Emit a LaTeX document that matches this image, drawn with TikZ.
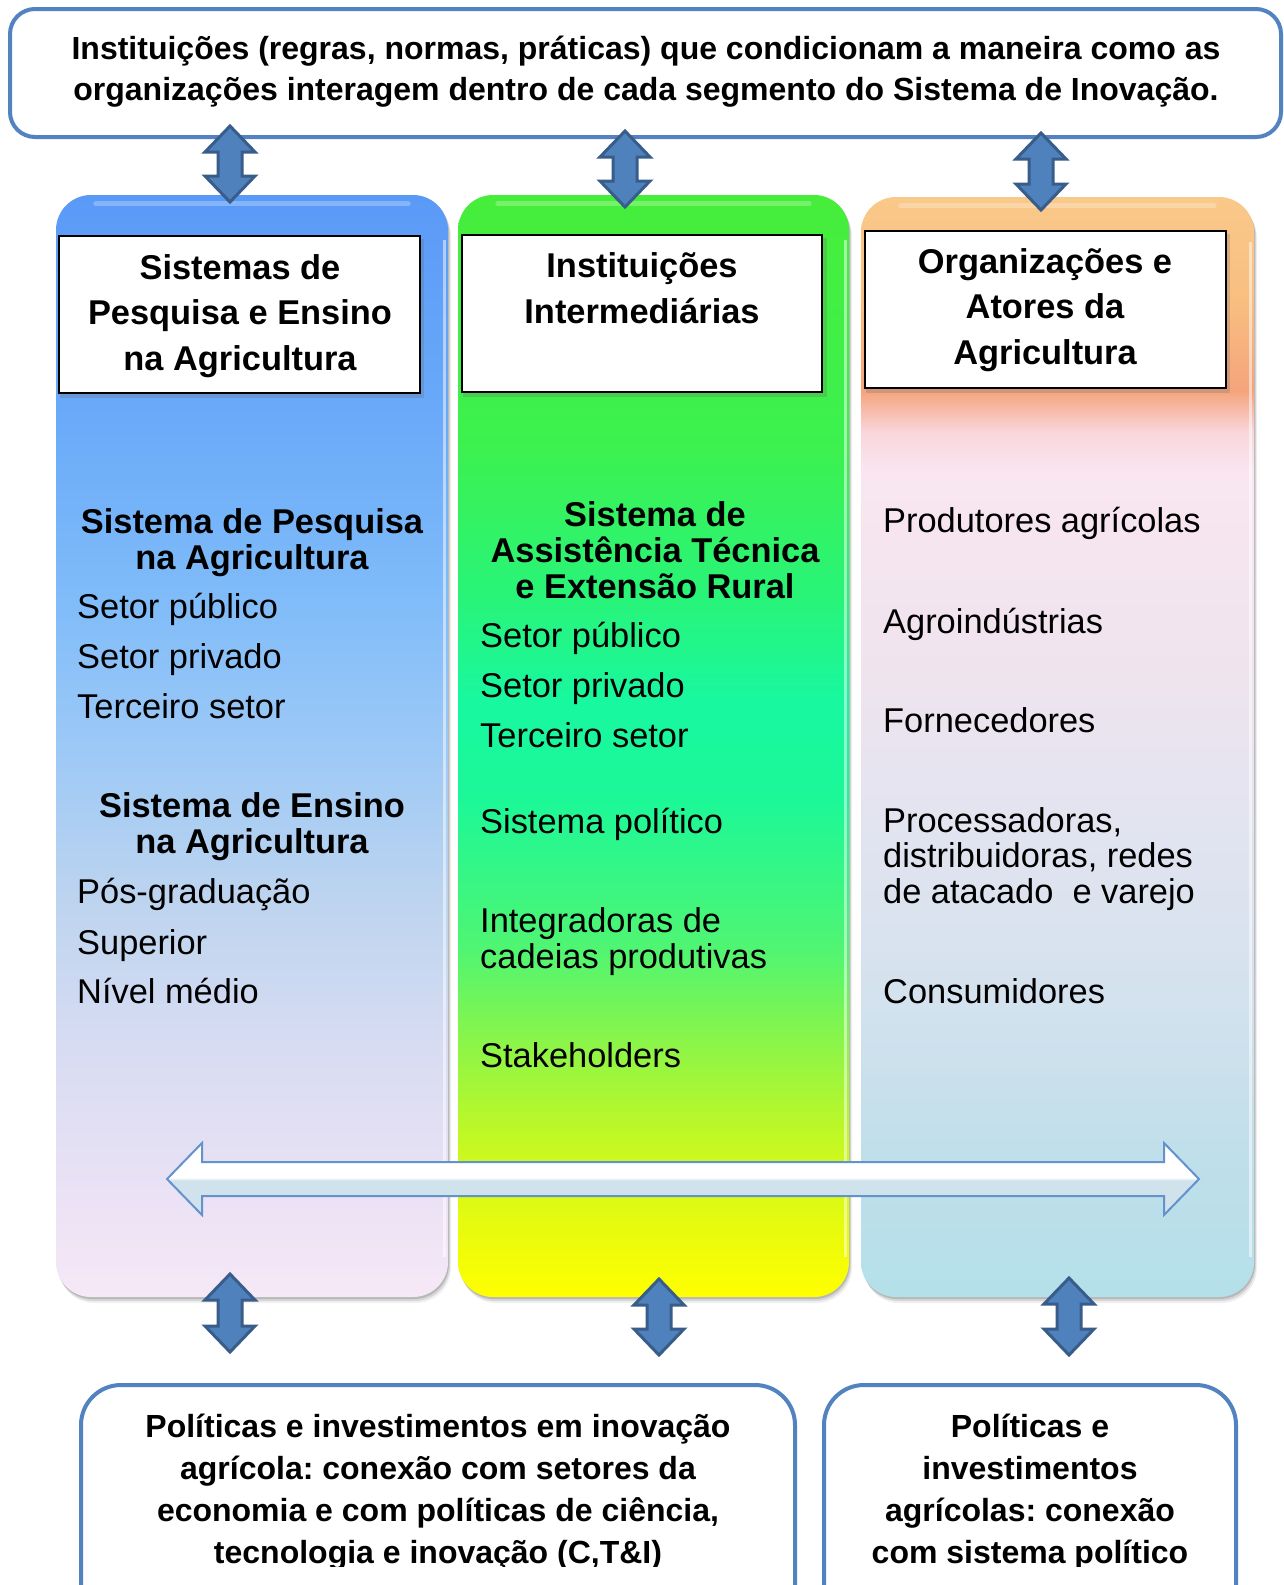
\documentclass[tikz,border=0pt]{standalone}
\usepackage{fontspec}
\setmainfont{Liberation Sans}
\usetikzlibrary{calc}
\frenchspacing

% frame and arrow colours
\definecolor{frameblue}{HTML}{5283C0}
\definecolor{arrowfill}{HTML}{4F81BD}
\definecolor{arrowedge}{HTML}{385D8A}
\definecolor{hedge}{HTML}{6392CC}
\definecolor{hlight}{HTML}{D0E3EC}

% column 1: blue to pale pink
\definecolor{ca1}{HTML}{F6E8F6}
\definecolor{ca2}{HTML}{EBE2F5}
\definecolor{ca3}{HTML}{D8DCF2}
\definecolor{ca4}{HTML}{BDD4EF}
\definecolor{ca5}{HTML}{9DC9F6}
\definecolor{ca6}{HTML}{80BCF9}
\definecolor{ca7}{HTML}{6AAAF9}
\definecolor{ca8}{HTML}{5A9AF7}
% column 2: green, cyan-green, yellow
\definecolor{cb1}{HTML}{FFFF00}
\definecolor{cb2}{HTML}{F0FC08}
\definecolor{cb3}{HTML}{C8F820}
\definecolor{cb4}{HTML}{90F545}
\definecolor{cb5}{HTML}{50F572}
\definecolor{cb6}{HTML}{1CF898}
\definecolor{cb7}{HTML}{18F8A0}
\definecolor{cb8}{HTML}{28F47A}
\definecolor{cb9}{HTML}{3CF150}
\definecolor{cb10}{HTML}{46EE3A}
% column 3: orange, pink, light blue
\definecolor{cc1}{HTML}{B4E0EA}
\definecolor{cc2}{HTML}{C0DFEA}
\definecolor{cc3}{HTML}{D3E2EE}
\definecolor{cc4}{HTML}{E4E4F0}
\definecolor{cc5}{HTML}{F0E4EE}
\definecolor{cc6}{HTML}{F9E6F0}
\definecolor{cc7}{HTML}{F9D6DC}
\definecolor{cc8}{HTML}{F5A47C}
\definecolor{cc9}{HTML}{F8BE80}
\definecolor{cc10}{HTML}{F9C98A}

\pgfdeclareverticalshading{shadeone}{100bp}{color(0bp)=(ca1); color(25bp)=(ca1);
  color(29.4bp)=(ca2); color(36.2bp)=(ca3); color(43bp)=(ca4); color(49.8bp)=(ca5);
  color(56.6bp)=(ca6); color(64.8bp)=(ca7); color(75bp)=(ca8); color(100bp)=(ca8)}
\pgfdeclareverticalshading{shadetwo}{100bp}{color(0bp)=(cb1); color(25bp)=(cb1);
  color(27.1bp)=(cb2); color(31.7bp)=(cb3); color(36.2bp)=(cb4); color(40.8bp)=(cb5);
  color(47.6bp)=(cb6); color(52bp)=(cb7); color(56.6bp)=(cb8); color(63.4bp)=(cb9);
  color(75bp)=(cb10); color(100bp)=(cb10)}
\pgfdeclareverticalshading{shadethree}{100bp}{color(0bp)=(cc1); color(25bp)=(cc1);
  color(31.7bp)=(cc2); color(38.5bp)=(cc3); color(47.5bp)=(cc4); color(54.4bp)=(cc5);
  color(62.5bp)=(cc6); color(64.3bp)=(cc7); color(66.2bp)=(cc8); color(70.2bp)=(cc9);
  color(75bp)=(cc10); color(100bp)=(cc10)}
\pgfdeclareverticalshading{shadebar}{100bp}{color(0bp)=(hlight); color(49bp)=(hlight);
  color(51bp)=(white); color(100bp)=(white)}

% multi-line text nodes are placed by the baseline of their last line
\tikzset{
  colbox/.style={rectangle, rounded corners=35pt, inner sep=0pt, shading=#1},
  headbox/.style={rectangle, draw=black, line width=2.2pt, fill=white, inner sep=0pt},
  roundframe/.style={rectangle, draw=frameblue, line width=4pt, fill=white, rounded corners=#1, inner sep=0pt},
  udarrow/.style={fill=arrowfill, draw=arrowedge, line width=3pt, line join=miter},
  bararrow/.style={shade, shading=shadebar, draw=hedge, line width=2pt, line join=miter},
  bodytxt/.style={anchor=base west, inner sep=0pt, align=left, font=\fontsize{34.4}{35.5}\selectfont},
  subhead/.style={anchor=base, inner sep=0pt, align=center, font=\bfseries\fontsize{34.4}{36}\selectfont},
  headtxt/.style={anchor=base, inner sep=0pt, align=center, font=\bfseries\fontsize{34.4}{45.5}\selectfont},
  boxtxt/.style={anchor=base, inner sep=0pt, align=center, font=\bfseries\fontsize{32}{42}\selectfont},
}

% vertical block arrow with heads at both ends
\newcommand\blockudarrow[2]{%
  \draw[udarrow] let \p1=(#1), \p2=(#2) in
    (\x1,\y1) -- ++(25pt,-26pt) -- ++(-13pt,0pt) -- (\x1+12pt,\y2+26pt) -- ++(13pt,0pt)
    -- (\x2,\y2) -- ++(-25pt,26pt) -- ++(13pt,0pt) -- (\x1-12pt,\y1-26pt) -- ++(-13pt,0pt) -- cycle;}
% horizontal block arrow with heads at both ends
\newcommand\blocklrarrow[2]{%
  \path[bararrow] let \p1=(#1), \p2=(#2) in
    (\x1,\y1) -- ++(35pt,36pt) -- ++(0pt,-19pt) -- (\x2-35pt,\y1+17pt) -- ++(0pt,19pt)
    -- (\x2,\y2) -- ++(-35pt,-36pt) -- ++(0pt,19pt) -- (\x1+35pt,\y1-17pt) -- ++(0pt,-19pt) -- cycle;}

\begin{document}
\begin{tikzpicture}[x=1pt, y=-1pt]
\useasboundingbox (0,0) rectangle (1284,1585);
\clip (0,0) rectangle (1284,1585);
\fill[white] (0,0) rectangle (1284,1585);

% soft shadows under the three columns
\foreach \cx/\cy/\w/\h in {252/746/392/1102, 653.5/746/391/1102, 1057.5/747/393/1100}{
  \foreach \o/\op in {6/0.06, 4/0.10, 2/0.14}{
    \fill[black, opacity=\op, rounded corners=35pt]
      (\cx-\w/2+\o/2, \cy-\h/2+\o) rectangle (\cx+\w/2+\o/2, \cy+\h/2+\o);
  }
}

% the three columns
\node[colbox=shadeone, minimum width=392, minimum height=1102] (col1) at (252,746) {};
\node[colbox=shadetwo, minimum width=391, minimum height=1102] (col2) at (653.5,746) {};
\node[colbox=shadethree, minimum width=393, minimum height=1100] (col3) at (1057.5,747) {};

% glossy highlights
\foreach \c in {col1,col2,col3}{
  \draw[white, opacity=0.25, line width=5pt, line cap=round]
    ($(\c.north west)+(40,9)$) -- ($(\c.north east)+(-40,9)$);
  \draw[white, opacity=0.5, line width=3pt]
    ($(\c.north east)+(-4,45)$) -- ($(\c.south east)+(-4,-40)$);
}

% header boxes with shadow
\foreach \hx/\hy in {239.5/314.5, 642/313.5, 1045.5/309.5}{
  \fill[black!60, opacity=0.25] (\hx-180.5+1,\hy-78.5+3) rectangle (\hx+180.5+4,\hy+78.5+5);
}
\node[headbox, minimum width=361, minimum height=157] (h1) at (239.5,314.5) {};
\node[headbox, minimum width=360, minimum height=157] (h2) at (642,313.5) {};
\node[headbox, minimum width=361, minimum height=157] (h3) at (1045.5,309.5) {};

\node[headtxt] (h1t) at (240,370) {Sistemas de\\Pesquisa e Ensino\\na Agricultura};
\node[headtxt] (h2t) at (642,323) {Instituições\\Intermediárias};
\node[headtxt] (h3t) at (1045,364) {Organizações e\\Atores da\\Agricultura};

% top box
\node[roundframe=25pt, minimum width=1271, minimum height=128] (top) at (645.5,73) {};
\node[boxtxt, font=\bfseries\fontsize{32}{41}\selectfont] (topt) at (646,100)
  {Instituições (regras, normas, práticas) que condicionam a maneira como as\\organizações interagem dentro de cada segmento do Sistema de Inovação.};

% links between the top box and the columns
\coordinate (a1t) at (230,126);  \coordinate (a1b) at (230,202);
\coordinate (a2t) at (625,131);  \coordinate (a2b) at (625,207);
\coordinate (a3t) at (1041,133); \coordinate (a3b) at (1041,210);
\blockudarrow{a1t}{a1b}
\blockudarrow{a2t}{a2b}
\blockudarrow{a3t}{a3b}

% column 1 contents
\node[subhead] (pesq) at (252,569) {Sistema de Pesquisa\\na Agricultura};
\node[bodytxt] (p1) at (77,618) {Setor público};
\node[bodytxt] (p2) at (77,668) {Setor privado};
\node[bodytxt] (p3) at (77,718) {Terceiro setor};
\node[subhead] (ens) at (252,853) {Sistema de Ensino\\na Agricultura};
\node[bodytxt] (e1) at (77,903) {Pós-graduação};
\node[bodytxt] (e2) at (77,954) {Superior};
\node[bodytxt] (e3) at (77,1003) {Nível médio};

% column 2 contents
\node[subhead] (ater) at (655,598) {Sistema de\\Assistência Técnica\\e Extensão Rural};
\node[bodytxt] (t1) at (480,647) {Setor público};
\node[bodytxt] (t2) at (480,697) {Setor privado};
\node[bodytxt] (t3) at (480,747) {Terceiro setor};
\node[bodytxt] (t4) at (480,833) {Sistema político};
\node[bodytxt] (t5) at (480,968) {Integradoras de\\cadeias produtivas};
\node[bodytxt] (t6) at (480,1067) {Stakeholders};

% column 3 contents
\node[bodytxt] (o1) at (883,532) {Produtores agrícolas};
\node[bodytxt] (o2) at (883,633) {Agroindústrias};
\node[bodytxt] (o3) at (883,732) {Fornecedores};
\node[bodytxt] (o4) at (883,903) {Processadoras,\\distribuidoras, redes\\de atacado~ e varejo};
\node[bodytxt] (o5) at (883,1003) {Consumidores};

% arrow across the three columns
\coordinate (hl) at (167,1179);
\coordinate (hr) at (1199,1179);
\blocklrarrow{hl}{hr}

% bottom boxes
\node[roundframe=40pt, minimum width=714, minimum height=240] (pol1) at (438,1505) {};
\node[roundframe=40pt, minimum width=412, minimum height=240] (pol2) at (1030,1505) {};
\begin{scope}
  \clip (0,0) rectangle (1284,1566);
  \node[boxtxt] (pol1t) at (438,1563)
    {Políticas e investimentos em inovação\\agrícola: conexão com setores da\\economia e com políticas de ciência,\\tecnologia e inovação (C,T\&I)};
  \node[boxtxt] (pol2t) at (1030,1563)
    {Políticas e\\investimentos\\agrícolas: conexão\\com sistema político};
\end{scope}

% links between the columns and the bottom boxes
\coordinate (b1t) at (230,1274);  \coordinate (b1b) at (230,1352);
\coordinate (b2t) at (659,1279);  \coordinate (b2b) at (659,1355);
\coordinate (b3t) at (1069,1278); \coordinate (b3b) at (1069,1355);
\blockudarrow{b1t}{b1b}
\blockudarrow{b2t}{b2b}
\blockudarrow{b3t}{b3b}
\end{tikzpicture}
\end{document}
